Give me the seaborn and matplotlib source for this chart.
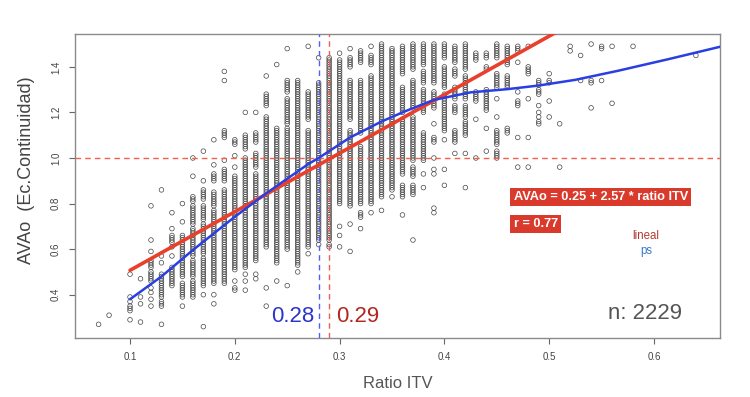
import numpy as np
import pandas as pd
import matplotlib
matplotlib.use("Agg")
import matplotlib.pyplot as plt
import seaborn as sns

# ---- data (AVAo in hundredths, runs "a-b" = every 0.01 step seen as a chain) ----
ratio_cols = [0.07, 0.08, 0.10, 0.11, 0.12, 0.13, 0.14, 0.15, 0.16, 0.17,
              0.18, 0.19, 0.20, 0.21, 0.22, 0.23, 0.24, 0.25, 0.26, 0.27,
              0.28, 0.29, 0.30, 0.31, 0.32, 0.33, 0.34, 0.35, 0.36, 0.37,
              0.38, 0.39, 0.40, 0.41, 0.42, 0.43, 0.44, 0.45, 0.46, 0.47,
              0.48, 0.49, 0.50, 0.51, 0.52, 0.53, 0.54, 0.55, 0.56, 0.58,
              0.64]
avao_cols = [
    "27", "31", "29,33,34,35,37,39,49", "28,36,39,47",
    "35,38,41,43,46-50,52-55,59,64,79",
    "27,35-37,39-49,54,57,86",
    "44-52,57,61,63-66,69,76",
    "35,39-45,48-66,72,80",
    "39-46,48-55,57-69,71-79,81-83,92,100",
    "26,40,44-56,58-71,73-79,82-86,90,103",
    "36,40,45-77,79-85,90-93,97,108",
    "45-86,90-95,99,109-112,134,138",
    "42,43,46,51-92,96,101,106-108",
    "42,46,49,52-100,104-110,120",
    "47,49,55-93,96-102,107-111,120",
    "35,43,61-118,123-128,136",
    "46,54-113,141",
    "44,60-113,115-126,129-134,148",
    "50,53-134",
    "58,61-112,117-129,149",
    "62,64-133,144",
    "61,62,64-144",
    "61,66,70,80-143,146",
    "59,71,79-112,117-134,140-144,148",
    "69,74-76,80-105,111-134,142-147",
    "76,80-136,141-145,149",
    "77,83-150",
    "83,86-148",
    "75,83-88,93-117,120-131,137-149",
    "64,84-88,92-96,99-118,122-134,139-150",
    "87,93,99-111,120-130,133-138,141-150",
    "76,78,93,95,100,107-109,115,122-129,133-150",
    "88,95,108,112-128,131-140,144-150",
    "102,107-112,120-123,126-131,136-139,142-149",
    "87,102,110-116,118-123,126-136,139-150",
    "100,117,125-129,143-146",
    "103,113,121-130,139,140,144-146",
    "100-103,106-112,118,126,131-137,144-150",
    "111-113,131-136,141-149",
    "96,109,123-125,129,142,147-149",
    "96,109,126,137-140,149",
    "115,116,118,120,123,128-130,132-134",
    "118,125,133,134,137",
    "96,115", "147,149", "134,145", "122,133,134,150",
    "134,148,149", "124,149", "149", "145",
]

# penalized spline (ps) curve
ps_x = [0.10, 0.13, 0.16, 0.20, 0.23, 0.27, 0.28, 0.31, 0.34, 0.362, 0.39,
        0.425, 0.46, 0.49, 0.525, 0.565, 0.615, 0.663]
ps_y = [0.38, 0.48, 0.596, 0.742, 0.845, 0.973, 1.0, 1.09, 1.16, 1.204, 1.255,
        1.288, 1.302, 1.318, 1.343, 1.382, 1.435, 1.488]

# linear fit AVAo = 0.25 + 2.57 * ratio ITV
lin_x = [0.10, 0.66]
lin_y = [0.507, 1.946]

x_ticks = [0.1, 0.2, 0.3, 0.4, 0.5, 0.6]
y_ticks = [0.4, 0.6, 0.8, 1.0, 1.2, 1.4]
cut_ps, cut_lin = 0.28, 0.29


def expand(spec):
    vals = []
    for tok in spec.split(","):
        if "-" in tok:
            a, b = tok.split("-")
            vals.extend(range(int(a), int(b) + 1))
        else:
            vals.append(int(tok))
    return [v / 100 for v in vals]


rows = []
for xv, spec in zip(ratio_cols, avao_cols):
    for yv in expand(spec):
        rows.append((xv, yv))
df = pd.DataFrame(rows, columns=["ratio", "avao"])

sns.set_theme(style="white")
plt.rcParams["font.family"] = ["Liberation Sans", "DejaVu Sans"]

fig = plt.figure(figsize=(7.5, 3.97), dpi=100)
ax = fig.add_axes([0.1, 0.1486, 0.86, 0.7657])

sns.scatterplot(data=df, x="ratio", y="avao", ax=ax, s=11, marker="o",
                legend=False, zorder=2)
coll = ax.collections[0]
coll.set_facecolor("none")
coll.set_edgecolor("#454545")
coll.set_linewidth(0.5)

ax.axhline(1.0, color="#f0604e", ls=(0, (4, 3)), lw=1.0, zorder=3)
ax.axvline(cut_ps, color="#4f63f0", ls=(0, (4, 3)), lw=1.0, zorder=3)
ax.axvline(cut_lin, color="#f0604e", ls=(0, (4, 3)), lw=1.0, zorder=3)

sns.lineplot(x=lin_x, y=lin_y, ax=ax, color="#e8402b", lw=2.6, zorder=4)
sns.lineplot(x=ps_x, y=ps_y, ax=ax, color="#2a3fe3", lw=1.8, zorder=5)

ax.set_xlim(0.0475, 0.663)
ax.set_ylim(0.21, 1.544)
ax.set_xticks(x_ticks)
ax.set_xticklabels([f"{t:.1f}" for t in x_ticks])
ax.set_yticks(y_ticks)
ax.set_yticklabels([f"{t:.1f}" for t in y_ticks], rotation=90, va="center")
ax.tick_params(axis="both", which="both", direction="out", length=4, width=0.8,
               color="#666666", labelsize=7, labelcolor="#444444",
               bottom=True, left=True, pad=6)
for sp in ax.spines.values():
    sp.set_color("#8a8a8a")
    sp.set_linewidth(1.0)

ax.set_xlabel("Ratio ITV", fontsize=12, color="#555555", labelpad=10)
ax.set_ylabel("AVAo  (Ec.Continuidad)", fontsize=13, color="#444444")
ax.yaxis.set_label_coords(-0.062, 0.553)

ax.text(0.255, 0.303, "0.28", color="#2b35c8", fontsize=16, ha="center", va="center", zorder=6)
ax.text(0.3176, 0.303, "0.29", color="#b0281e", fontsize=16, ha="center", va="center", zorder=6)
ax.text(0.591, 0.316, "n: 2229", color="#555555", fontsize=16, ha="center", va="center", zorder=6)

box = dict(boxstyle="square,pad=0.25", fc="#d93a2b", ec="none")
ax.text(0.466, 0.829, "AVAo = 0.25 + 2.57 * ratio ITV", color="white", fontsize=9.2,
        fontweight="bold", ha="left", va="center", bbox=box, zorder=7)
ax.text(0.466, 0.71, "r = 0.77", color="white", fontsize=9.2,
        fontweight="bold", ha="left", va="center", bbox=box, zorder=7)
ax.text(0.5924, 0.658, "lineal", color="#b53a30", fontsize=8.3, ha="center", va="center")
ax.text(0.5924, 0.593, "ps", color="#3a78d0", fontsize=8.3, ha="center", va="center")

fig.savefig("out.png", dpi=100, facecolor="white")
